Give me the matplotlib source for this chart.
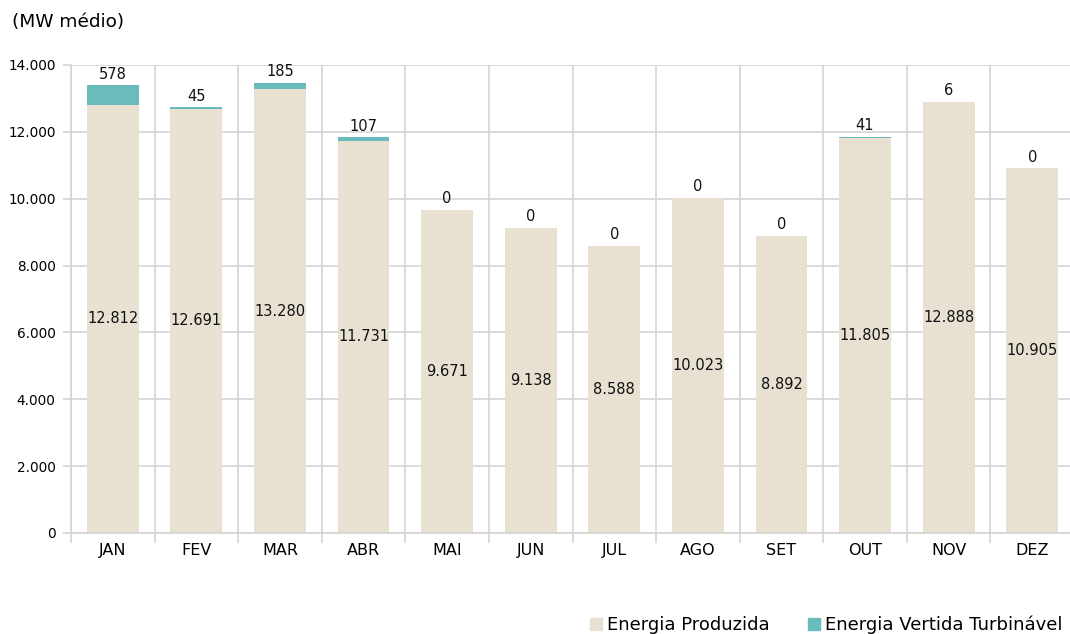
import numpy as np
import matplotlib.pyplot as plt
from matplotlib.ticker import FuncFormatter, FixedLocator

plt.rcParams['font.family'] = ['DejaVu Sans']

# Dados
meses = ['JAN', 'FEV', 'MAR', 'ABR', 'MAI', 'JUN', 'JUL', 'AGO', 'SET', 'OUT', 'NOV', 'DEZ']
produzida = [12812, 12691, 13280, 11731, 9671, 9138, 8588, 10023, 8892, 11805, 12888, 10905]
vertida = [578, 45, 185, 107, 0, 0, 0, 0, 0, 41, 6, 0]

cor_prod = '#E8E1D1'
cor_vert = '#6ABBBB'
cor_grade = '#D4D4D4'

fig = plt.figure(figsize=(10.7, 6.34), dpi=100)
ax = fig.add_axes([71 / 1070, 1 - 533 / 634, 1003 / 1070, 468 / 634])

x = np.arange(len(meses))
ax.bar(x, produzida, width=0.62, color=cor_prod, zorder=2)
ax.bar(x, vertida, width=0.62, bottom=produzida, color=cor_vert, zorder=2)

fmt = lambda v: f'{v:,.0f}'.replace(',', '.')
for i in x:
    ax.text(i, produzida[i] / 2, fmt(produzida[i]), ha='center', va='center', fontsize=10.5, color='#111111')
    ax.text(i, produzida[i] + vertida[i] + 110, fmt(vertida[i]), ha='center', va='bottom', fontsize=10.5, color='#111111')

ax.set_xlim(-0.5, len(meses) - 0.5)
ax.set_ylim(0, 14000)
ax.set_yticks(np.arange(0, 14001, 2000))
ax.yaxis.set_major_formatter(FuncFormatter(lambda v, p: fmt(v)))
ax.set_xticks(x)
ax.set_xticklabels(meses)
ax.xaxis.set_minor_locator(FixedLocator(np.arange(-0.5, len(meses), 1)))

ax.grid(axis='y', color=cor_grade, linewidth=1.2, zorder=0)
ax.grid(axis='x', which='minor', color=cor_grade, linewidth=1.2, zorder=0)
ax.tick_params(axis='y', length=6, color=cor_grade, width=1.2, labelsize=9.8, pad=5)
ax.tick_params(axis='x', which='major', length=0, labelsize=11.5, pad=7)
ax.tick_params(axis='x', which='minor', length=7, color=cor_grade, width=1.2)
for s in ['top', 'right']:
    ax.spines[s].set_visible(False)
ax.spines['left'].set_color(cor_grade)
ax.spines['bottom'].set_color(cor_grade)
ax.spines['left'].set_linewidth(1.2)
ax.spines['bottom'].set_linewidth(1.2)

fig.text(12 / 1070, 1 - 22 / 634, '(MW médio)', fontsize=13.3, va='center', ha='left')

h1 = plt.Line2D([], [], marker='s', linestyle='', color=cor_prod, markersize=8)
h2 = plt.Line2D([], [], marker='s', linestyle='', color=cor_vert, markersize=8)
fig.legend([h1, h2], ['Energia Produzida', 'Energia Vertida Turbinável'], loc='center right',
           bbox_to_anchor=(1.005, 1 - 625 / 634), ncol=2, frameon=False, fontsize=13,
           handletextpad=0.1, columnspacing=2.0, handlelength=1, borderpad=0.2)

fig.savefig('out.png', dpi=100)
